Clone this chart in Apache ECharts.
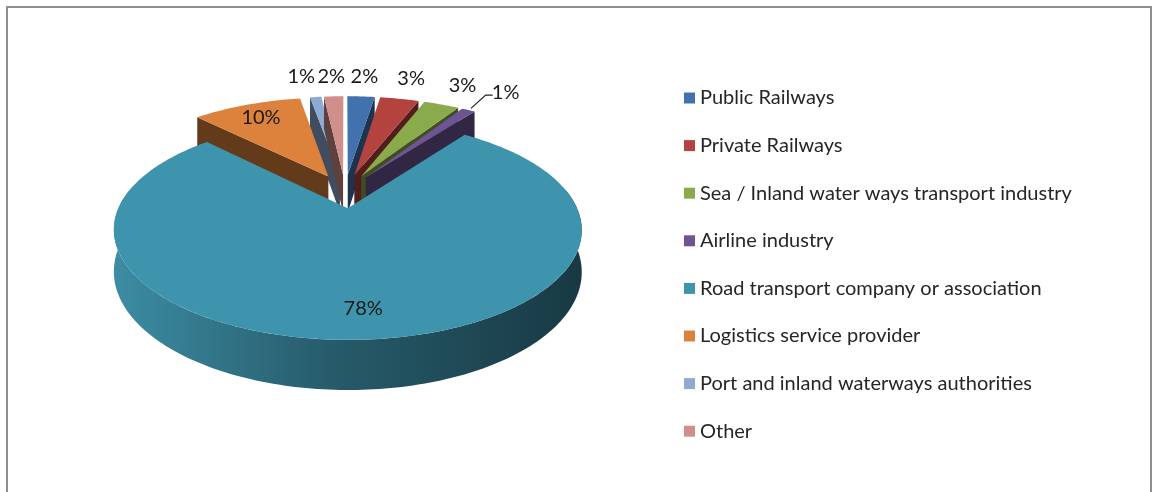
<!DOCTYPE html>
<html>
<head>
<meta charset="utf-8">
<script src="https://cdn.jsdelivr.net/npm/echarts@6/dist/echarts.min.js"></script>
<style>
  html, body { margin: 0; padding: 0; background: #fff; }
  #chart { width: 1152px; height: 492px; }
</style>
</head>
<body>
<div id="chart"></div>
<script>
// data
const categories = [
  'Public Railways',
  'Private Railways',
  'Sea / Inland water ways transport industry',
  'Airline industry',
  'Road transport company or association',
  'Logistics service provider',
  'Port and inland waterways authorities',
  'Other',
];
const shares = [2.4, 3.4, 3.1, 1.2, 77.6, 9.6, 1.0, 1.7];
const colors = ['#4272ad', '#b4433f', '#8aab4c', '#6d5494', '#3f94ad', '#dc823c', '#8eaad3', '#d08e8c'];
const leaderNames = ['Airline industry'];

// 3d pie look
const CX = 345, CY = 191, RX = 222, RY = 99;
const PERSP = 0.19;     // back of the pie smaller than the front
const DEPTH = 39;       // height of the side wall
const EXPLODE = 0.17;
const LABEL_R = 1.32;   // outside labels, in radii
const INSIDE_R = 0.8;
const FONT = 'Lato';
const FONT_SIZE = 20;
const DEG = Math.PI / 180;

const total = shares.reduce((a, b) => a + b, 0);
const slices = [];
let acc = 0;
shares.forEach((v) => {
  const a0 = (acc / total) * 2 * Math.PI;
  acc += v;
  const a1 = (acc / total) * 2 * Math.PI;
  slices.push({ a0, a1, mid: (a0 + a1) / 2 });
});

function project(u, v, drop) {
  const s = 1 / (1 + PERSP * v);
  return [CX + RX * u * s, CY - RY * v * s + (drop ? DEPTH * s : 0)];
}
function arc(ou, ov, t0, t1, drop) {
  const n = Math.max(2, Math.ceil((t1 - t0) / 0.02));
  const pts = [];
  for (let j = 0; j <= n; j++) {
    const t = t0 + ((t1 - t0) * j) / n;
    pts.push(project(ou + Math.sin(t), ov + Math.cos(t), drop));
  }
  return pts;
}
function shade(hex, f) {
  const n = parseInt(hex.slice(1), 16);
  const r = Math.round(((n >> 16) & 255) * f);
  const g = Math.round(((n >> 8) & 255) * f);
  const b = Math.round((n & 255) * f);
  return `rgb(${r},${g},${b})`;
}
function pct(v) {
  return Math.round((v / total) * 100) + '%';
}

// label spots, pushed apart where small labels would overlap
const labels = slices.map((sl, i) => {
  const inside = shares[i] / total >= 0.05;
  const leader = leaderNames.includes(categories[i]);
  const r = (inside ? INSIDE_R : LABEL_R) + EXPLODE;
  const p = project(r * Math.sin(sl.mid), r * Math.cos(sl.mid), false);
  return { i, inside, leader, x: p[0] + (leader ? 10 : 0), y: p[1] };
});
const MIN_GAP = 30;
const outside = labels.filter((l) => !l.inside);
const leftSide = outside.filter((l) => l.x < CX).sort((a, b) => b.x - a.x);
for (let j = 1; j < leftSide.length; j++) {
  if (leftSide[j - 1].x - leftSide[j].x < MIN_GAP && Math.abs(leftSide[j - 1].y - leftSide[j].y) < 22) {
    leftSide[j].x = leftSide[j - 1].x - MIN_GAP;
  }
}
const rightSide = outside.filter((l) => l.x >= CX).sort((a, b) => a.x - b.x);
for (let j = 1; j < rightSide.length; j++) {
  if (rightSide[j].x - rightSide[j - 1].x < MIN_GAP && Math.abs(rightSide[j - 1].y - rightSide[j].y) < 22) {
    rightSide[j].x = rightSide[j - 1].x + MIN_GAP;
  }
}

function renderSlice(i) {
  const { a0, a1, mid } = slices[i];
  const ou = EXPLODE * Math.sin(mid);
  const ov = EXPLODE * Math.cos(mid);
  const base = colors[i];
  const children = [];

  // curved side, front half only
  const f0 = Math.max(a0, 80 * DEG);
  const f1 = Math.min(a1, 280 * DEG);
  if (f1 > f0) {
    const top = arc(ou, ov, f0, f1, false);
    const bot = arc(ou, ov, f0, f1, true).reverse();
    children.push({
      type: 'polygon',
      shape: { points: top.concat(bot) },
      style: {
        fill: new echarts.graphic.LinearGradient(CX - RX * 1.05, 0, CX + RX * 1.1, 0, [
          { offset: 0, color: shade(base, 0.95) },
          { offset: 0.45, color: shade(base, 0.62) },
          { offset: 1, color: shade(base, 0.38) },
        ], true),
      },
    });
  }

  // cut faces that look towards the viewer
  const c = project(ou, ov, false);
  const cb = project(ou, ov, true);
  [[a0, Math.sin(a0) < -0.001], [a1, Math.sin(a1) > 0.001]].forEach(([t, visible]) => {
    if (!visible) return;
    const p = project(ou + Math.sin(t), ov + Math.cos(t), false);
    const pb = project(ou + Math.sin(t), ov + Math.cos(t), true);
    children.push({
      type: 'polygon',
      shape: { points: [c, p, pb, cb] },
      style: { fill: shade(base, 0.45) },
    });
  });

  // top face
  children.push({
    type: 'polygon',
    shape: { points: [c].concat(arc(ou, ov, a0, a1, false)) },
    style: { fill: base },
  });

  const lb = labels[i];
  if (lb.leader) {
    const rim = project((1.03 + EXPLODE) * Math.sin(mid), (1.03 + EXPLODE) * Math.cos(mid), false);
    children.push({
      type: 'polyline',
      shape: { points: [rim, [lb.x - 20, lb.y + 3], [lb.x - 13, lb.y + 3]] },
      style: { stroke: '#222', lineWidth: 1.2, fill: null },
    });
  }
  children.push({
    type: 'text',
    x: lb.x,
    y: lb.y,
    style: {
      text: pct(shares[i]),
      fontFamily: FONT,
      fontSize: FONT_SIZE,
      fill: '#1a1a1a',
      align: 'center',
      verticalAlign: 'middle',
    },
  });

  return { type: 'group', children };
}

const chart = echarts.init(document.getElementById('chart'));
chart.setOption({
  animation: false,
  backgroundColor: '#fff',
  graphic: [
    {
      type: 'rect',
      shape: { x: 7, y: 7, width: 1144, height: 520 },
      style: { fill: null, stroke: '#8e8e8e', lineWidth: 2 },
      silent: true,
    },
  ],
  legend: {
    orient: 'vertical',
    left: 679,
    top: 83,
    itemWidth: 11,
    itemHeight: 11,
    itemGap: 27.6,
    itemTextGap: 4,
    icon: 'rect',
    selectedMode: false,
    data: categories,
    textStyle: { fontFamily: FONT, fontSize: FONT_SIZE, color: '#262626' },
  },
  series: categories.map((name, i) => ({
    type: 'custom',
    name,
    coordinateSystem: 'none',
    z: 2 + Math.round((1 - Math.cos(slices[i].mid)) * 10),
    itemStyle: { color: colors[i] },
    data: [shares[i]],
    renderItem: () => renderSlice(i),
  })),
});
window.addEventListener('resize', () => chart.resize());
</script>
</body>
</html>
